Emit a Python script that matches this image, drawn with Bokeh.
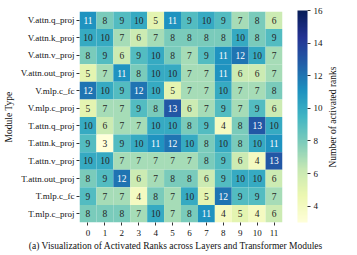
import math
from bokeh.plotting import figure
from bokeh.layouts import row, column
from bokeh.models import ColumnDataSource, LinearColorMapper, ColorBar, FixedTicker, Range1d
from bokeh.palettes import YlGnBu9, interp_palette
from bokeh.core.properties import value
from bokeh.embed import file_html
from bokeh.resources import INLINE

modules = ["V.attn.q_proj", "V.attn.k_proj", "V.attn.v_proj", "V.attn.out_proj",
           "V.mlp.c_fc", "V.mlp.c_proj", "T.attn.q_proj", "T.attn.k_proj",
           "T.attn.v_proj", "T.attn.out_proj", "T.mlp.c_fc", "T.mlp.c_proj"]
layers = [str(i) for i in range(12)]
activated_ranks = [
    [11, 8, 9, 10, 5, 11, 9, 10, 9, 7, 8, 6],
    [10, 10, 7, 6, 7, 8, 8, 8, 8, 10, 8, 9],
    [8, 9, 6, 9, 10, 8, 7, 9, 11, 12, 10, 7],
    [5, 7, 11, 8, 10, 10, 7, 7, 11, 6, 6, 7],
    [12, 10, 9, 12, 10, 5, 7, 7, 10, 7, 7, 8],
    [5, 7, 7, 9, 8, 13, 6, 7, 9, 7, 9, 6],
    [10, 6, 7, 7, 10, 10, 8, 9, 4, 8, 13, 10],
    [9, 3, 9, 10, 11, 12, 10, 8, 10, 8, 10, 11],
    [10, 10, 7, 7, 7, 7, 7, 8, 9, 6, 4, 13],
    [8, 9, 12, 6, 7, 8, 8, 6, 9, 10, 10, 6],
    [9, 7, 7, 4, 8, 7, 10, 5, 12, 9, 9, 7],
    [8, 8, 8, 7, 10, 7, 8, 11, 4, 5, 4, 6],
]
color_ticks = [4, 6, 8, 10, 12, 14, 16]
vmin, vmax = 3, 16
colorbar_title = "Number of activated ranks"
y_title = "Module Type"
caption = "(a) Visualization of Activated Ranks across Layers and Transformer Modules"

FONT = "Liberation Serif"
H = 238
TOP, BOTTOM = 11, 15
LEFT, HEAT_W = 69, 287
CAP_H = 17
TOTAL_W = 349

xs, ys, vs, tcol = [], [], [], []
for r, m in enumerate(modules):
    for c, l in enumerate(layers):
        v = activated_ranks[r][c]
        xs.append(l); ys.append(m); vs.append(v)
        tcol.append("white" if v >= 11 else "#262626")
src = ColumnDataSource(dict(x=xs, y=ys, v=vs, t=[str(v) for v in vs], tc=tcol))

palette = interp_palette(tuple(reversed(YlGnBu9)), 256)
mapper = LinearColorMapper(palette=palette, low=vmin, high=vmax)

p = figure(x_range=layers, y_range=list(reversed(modules)), width=HEAT_W, height=H,
           output_backend="svg", toolbar_location=None,
           min_border_left=LEFT, min_border_right=5, min_border_top=TOP, min_border_bottom=BOTTOM)
p.rect(x="x", y="y", width=1, height=1, source=src,
       fill_color={"field": "v", "transform": mapper}, line_color=None)
p.text(x="x", y="y", text="t", source=src, text_color="tc", text_align="center",
       text_baseline="middle", text_font=value(FONT), text_font_size="9.5px")

p.grid.visible = False
p.outline_line_color = None
for ax in (p.xaxis[0], p.yaxis[0]):
    ax.axis_line_color = None
    ax.major_tick_in = 0
    ax.major_tick_out = 3
    ax.major_tick_line_color = "#333333"
    ax.minor_tick_line_color = None
    ax.major_label_text_font = FONT
    ax.major_label_text_font_size = "9px"
    ax.major_label_text_color = "#111111"
    ax.axis_label_text_font = FONT
    ax.axis_label_text_font_size = "9.5px"
    ax.axis_label_text_font_style = "normal"
    ax.axis_label_text_color = "#111111"
    ax.major_label_standoff = 2
    ax.axis_label_standoff = 4
p.xaxis[0].major_label_standoff = 4
p.yaxis.axis_label = y_title

# colour bar panel
pc = figure(width=TOTAL_W - HEAT_W, height=H, x_range=Range1d(0, 50), y_range=Range1d(vmin, vmax),
            output_backend="svg", toolbar_location=None,
            min_border_left=10, min_border_right=2, min_border_top=TOP, min_border_bottom=BOTTOM)
pc.axis.visible = False
pc.grid.visible = False
pc.outline_line_color = None
cb = ColorBar(color_mapper=mapper, width=10, height=212, location=(0, 0),
              ticker=FixedTicker(ticks=color_ticks), padding=0, margin=0,
              major_label_text_font=FONT, major_label_text_font_size="9px",
              major_label_text_color="#111111",
              major_tick_in=0, major_tick_out=3, major_tick_line_color="#333333",
              bar_line_color=None, border_line_color=None, background_fill_color=None,
              label_standoff=3)
pc.add_layout(cb)
pc.text(x=[35], y=[(vmin + vmax) / 2], text=[colorbar_title], angle=math.pi / 2,
        text_align="center", text_baseline="middle", text_font=value(FONT),
        text_font_size="9.5px", text_color="#111111")

# caption panel
pt = figure(width=TOTAL_W, height=CAP_H, x_range=Range1d(0, TOTAL_W), y_range=Range1d(0, CAP_H),
            output_backend="svg", toolbar_location=None,
            min_border_left=0, min_border_right=0, min_border_top=0, min_border_bottom=0)
pt.axis.visible = False
pt.grid.visible = False
pt.outline_line_color = None
pt.text(x=[LEFT + (HEAT_W - LEFT - 5) / 2], y=[CAP_H - 7], text=[caption],
        text_align="center", text_baseline="middle", text_font=value(FONT),
        text_font_size="9.5px", text_color="#111111")

layout = column(row(p, pc), pt)
open("out.html", "w").write(file_html(layout, INLINE))
